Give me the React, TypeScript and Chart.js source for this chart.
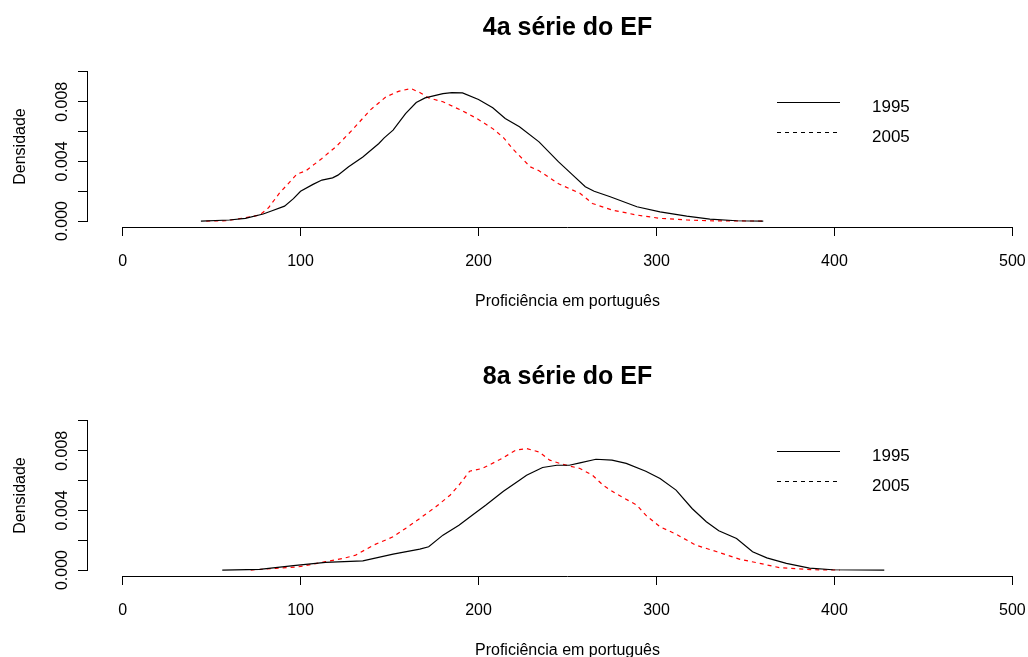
import React, { useEffect, useRef } from "react";
import { Chart, registerables } from "chart.js";

Chart.register(...registerables);

// ---------- data ----------
const X_TICKS = [0, 100, 200, 300, 400, 500];
const Y_TICKS = [0, 0.002, 0.004, 0.006, 0.008, 0.01];
const Y_LABELED = [0, 0.004, 0.008];
const LEGEND_LABELS = ["1995", "2005"];
const X_TITLE = "Proficiência em português";
const Y_TITLE = "Densidade";
const TITLE_4 = "4a série do EF";
const TITLE_8 = "8a série do EF";

// 4a série, 1995
const s4_1995_x = [44, 60, 69, 79, 84, 91, 96, 100, 107, 112, 118, 121, 127, 135, 144, 147, 152, 159, 165, 170, 180, 185, 191, 200, 208, 215, 223, 234, 245, 253, 260, 265, 274, 289, 302, 317, 330, 345, 360];
const s4_1995_y = [0, 0.00007, 0.00018, 0.00047, 0.00069, 0.001, 0.0015, 0.002, 0.00246, 0.00275, 0.0029, 0.00308, 0.00364, 0.0043, 0.0052, 0.00558, 0.0061, 0.0072, 0.00795, 0.00826, 0.00855, 0.00862, 0.0086, 0.00815, 0.0076, 0.00688, 0.00632, 0.00531, 0.00397, 0.00308, 0.0023, 0.002, 0.00163, 0.00096, 0.00062, 0.00033, 0.00013, 0.00002, 0];
// 4a série, 2005
const s4_2005_x = [47, 58, 69, 77, 82, 88, 94, 98, 103, 112, 120, 129, 139, 148, 155, 162, 167, 172, 180, 191, 199, 208, 214, 219, 229, 234, 245, 257, 264, 275, 289, 302, 317, 332, 360];
const s4_2005_y = [0, 0.00002, 0.00022, 0.0004, 0.00089, 0.00185, 0.00263, 0.00315, 0.00337, 0.0042, 0.005, 0.0061, 0.00743, 0.00833, 0.0087, 0.00889, 0.00862, 0.00826, 0.008, 0.00739, 0.00688, 0.0062, 0.0056, 0.00487, 0.00364, 0.00337, 0.0025, 0.00186, 0.00118, 0.00074, 0.0004, 0.00018, 0.00007, 0.00001, 0];
// 8a série, 1995
const s8_1995_x = [56, 77, 96, 114, 135, 152, 167, 172, 180, 189, 197, 204, 214, 223, 227, 236, 244, 251, 257, 266, 275, 283, 294, 302, 311, 320, 328, 335, 345, 354, 362, 373, 386, 399, 428];
const s8_1995_y = [0, 0.00005, 0.00029, 0.00052, 0.00062, 0.00107, 0.0014, 0.00156, 0.00234, 0.003, 0.00373, 0.00435, 0.00529, 0.00603, 0.00636, 0.00688, 0.00703, 0.00703, 0.00719, 0.00743, 0.00737, 0.00715, 0.00663, 0.00614, 0.00536, 0.00413, 0.00324, 0.00263, 0.00212, 0.00123, 0.00082, 0.00045, 0.00013, 0.00002, 0];
// 8a série, 2005
const s8_2005_x = [72, 86, 99, 107, 114, 124, 131, 141, 152, 159, 167, 176, 184, 189, 195, 202, 212, 221, 227, 234, 240, 247, 257, 264, 270, 277, 289, 294, 302, 311, 322, 334, 347, 358, 369, 388, 403];
const s8_2005_y = [0, 0.00011, 0.00022, 0.0004, 0.00056, 0.00078, 0.001, 0.00167, 0.00223, 0.00279, 0.00346, 0.00424, 0.00502, 0.00569, 0.00663, 0.00681, 0.00741, 0.00804, 0.00815, 0.00792, 0.00737, 0.0071, 0.00681, 0.00636, 0.00569, 0.00514, 0.00435, 0.00368, 0.0029, 0.00241, 0.00167, 0.00123, 0.00072, 0.00045, 0.00016, 0.00002, 0];

// ---------- chart ----------
const FONT = '"Liberation Sans", Arial, Helvetica, sans-serif';
const PANEL_H = 349;

const zip = (xs: number[], ys: number[]) => xs.map((x, i) => ({ x, y: ys[i] }));
const al = (p: number) => Math.round(p - 0.5) + 0.5;

function Panel({ title, x1, y1, x2, y2, top }: { title: string; x1: number[]; y1: number[]; x2: number[]; y2: number[]; top: number }) {
  const ref = useRef<HTMLCanvasElement>(null);
  useEffect(() => {
    const overlay = {
      id: "rbase",
      afterDraw(chart: any) {
        const { ctx, chartArea: a, scales } = chart;
        const xs = scales.x;
        const ys = scales.y;
        ctx.save();
        ctx.strokeStyle = "#000";
        ctx.fillStyle = "#000";
        ctx.lineWidth = 1;
        ctx.setLineDash([]);
        // axis lines (R style, spanning first to last tick)
        const yb = Math.round(a.bottom) + 0.5;
        ctx.beginPath();
        ctx.moveTo(al(xs.getPixelForValue(X_TICKS[0])) - 0.5, yb);
        ctx.lineTo(al(xs.getPixelForValue(X_TICKS[X_TICKS.length - 1])) + 0.5, yb);
        ctx.stroke();
        const xl = Math.round(a.left) + 0.5;
        ctx.beginPath();
        ctx.moveTo(xl, al(ys.getPixelForValue(Y_TICKS[0])) + 0.5);
        ctx.lineTo(xl, al(ys.getPixelForValue(Y_TICKS[Y_TICKS.length - 1])) - 0.5);
        ctx.stroke();
        // rotated y tick labels
        ctx.font = `16px ${FONT}`;
        ctx.textAlign = "center";
        ctx.textBaseline = "middle";
        for (const v of Y_LABELED) {
          ctx.save();
          ctx.translate(a.left - 24.5, ys.getPixelForValue(v));
          ctx.rotate(-Math.PI / 2);
          ctx.fillText(v.toFixed(3), 0, 0);
          ctx.restore();
        }
        // main title
        ctx.font = `bold 25px ${FONT}`;
        ctx.textAlign = "center";
        ctx.textBaseline = "alphabetic";
        ctx.fillText(title, (a.left + a.right) / 2, 35);
        // legend
        const lx0 = a.left + 690;
        const lx1 = a.left + 753;
        const tx = a.left + 785;
        const rows = [a.top + 36, a.top + 66];
        ctx.font = `17px ${FONT}`;
        ctx.textAlign = "left";
        rows.forEach((ry, i) => {
          ctx.beginPath();
          ctx.setLineDash(i === 0 ? [] : [4, 4]);
          ctx.moveTo(lx0, Math.round(ry) + 0.5);
          ctx.lineTo(lx1, Math.round(ry) + 0.5);
          ctx.stroke();
          ctx.setLineDash([]);
          ctx.fillText(LEGEND_LABELS[i], tx, ry + 9.5);
        });
        ctx.restore();
      },
    };

    const gridOpts = {
      display: true,
      drawOnChartArea: false,
      drawTicks: true,
      tickLength: 9,
      color: "#000",
      tickColor: "#000",
      lineWidth: 1,
    };

    const chart = new Chart(ref.current as HTMLCanvasElement, {
      type: "line",
      data: {
        datasets: [
          {
            label: LEGEND_LABELS[0],
            data: zip(x1, y1),
            borderColor: "#000000",
            borderWidth: 1.2,
            pointRadius: 0,
            tension: 0,
            fill: false,
          },
          {
            label: LEGEND_LABELS[1],
            data: zip(x2, y2),
            borderColor: "#ff0000",
            borderWidth: 1.2,
            borderDash: [4, 4],
            pointRadius: 0,
            tension: 0,
            fill: false,
          },
        ],
      },
      options: {
        responsive: false,
        animation: false,
        events: [],
        layout: { padding: { top: 66, right: 12, left: 0, bottom: 0 } },
        plugins: {
          legend: { display: false },
          title: { display: false },
          tooltip: { enabled: false },
        },
        scales: {
          x: {
            type: "linear",
            min: -20,
            max: 520,
            afterBuildTicks: (s: any) => {
              s.ticks = X_TICKS.map((v) => ({ value: v }));
            },
            afterFit: (s: any) => {
              s.height = PANEL_H - 227;
            },
            grid: gridOpts,
            border: { display: false },
            ticks: {
              color: "#000",
              font: { family: FONT, size: 16 },
              padding: 16,
              maxRotation: 0,
              minRotation: 0,
              autoSkip: false,
              callback: (v: any) => String(v),
            },
            title: {
              display: true,
              text: X_TITLE,
              color: "#000",
              font: { family: FONT, size: 16 },
              padding: { top: 0, bottom: 38 },
            },
          },
          y: {
            type: "linear",
            min: -0.0004,
            max: 0.0104,
            afterBuildTicks: (s: any) => {
              s.ticks = Y_TICKS.map((v) => ({ value: v }));
            },
            afterFit: (s: any) => {
              s.width = 87;
            },
            grid: gridOpts,
            border: { display: false },
            ticks: { display: false },
            title: {
              display: true,
              text: Y_TITLE,
              color: "#000",
              font: { family: FONT, size: 16 },
              padding: { top: 11, bottom: 0 },
            },
          },
        },
      },
      plugins: [overlay],
    } as any);
    return () => chart.destroy();
  }, [title, x1, y1, x2, y2]);

  return (
    <canvas
      ref={ref}
      width={1060}
      height={PANEL_H}
      style={{ position: "absolute", left: 0, top, display: "block" }}
    />
  );
}

export default function App() {
  return (
    <div
      style={{
        position: "absolute",
        left: 0,
        top: 0,
        width: 1028,
        height: 657,
        overflow: "hidden",
        background: "#ffffff",
      }}
    >
      <Panel title={TITLE_4} x1={s4_1995_x} y1={s4_1995_y} x2={s4_2005_x} y2={s4_2005_y} top={0} />
      <Panel title={TITLE_8} x1={s8_1995_x} y1={s8_1995_y} x2={s8_2005_x} y2={s8_2005_y} top={PANEL_H} />
    </div>
  );
}
